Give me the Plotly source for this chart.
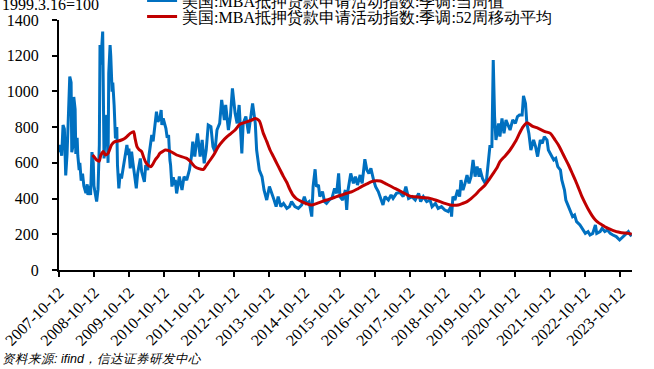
import pandas as pd
import plotly.graph_objects as go

# weekly observation index since 2007-10-12, and values (1999.3.16=100)
blue_week = [
    0, 2, 4, 6, 8, 10, 12, 14, 16, 18,
    19, 21, 22, 24, 25, 27, 28, 30, 31, 33,
    35, 37, 40, 42, 43, 45, 47, 49, 51, 52,
    54, 56, 58, 60, 61, 62, 65, 66, 67, 69,
    71, 73, 74, 76, 77, 79, 80, 82, 84, 86,
    87, 89, 91, 93, 95, 97, 99, 101, 103, 104,
    106, 108, 110, 112, 115, 117, 119, 121, 123, 125,
    127, 129, 132, 134, 136, 138, 140, 143, 145, 147,
    150, 152, 153, 155, 159, 161, 163, 165, 166, 168,
    170, 172, 173, 175, 179, 183, 186, 190, 194, 197,
    199, 202, 206, 210, 213, 216, 219, 222, 226, 229,
    232, 235, 239, 242, 246, 248, 252, 255, 258, 262,
    265, 268, 272, 274, 278, 282, 285, 288, 292, 294,
    298, 302, 305, 309, 313, 316, 320, 323, 326, 330,
    334, 339, 343, 346, 351, 356, 361, 365, 368, 372,
    376, 378, 381, 383, 386, 388, 392, 395, 398, 402,
    406, 410, 413, 416, 418, 422, 426, 428, 430, 434,
    438, 441, 444, 448, 451, 455, 458, 461, 464, 468,
    471, 475, 479, 482, 485, 490, 494, 497, 502, 507,
    512, 516, 520, 525, 530, 535, 538, 542, 547, 552,
    555, 560, 564, 569, 574, 579, 583, 584, 586, 589,
    593, 596, 598, 601, 604, 607, 610, 613, 616, 619,
    622, 625, 626, 630, 634, 636, 639, 641, 644, 646,
    648, 650, 654, 656, 659, 662, 665, 669, 671, 675,
    679, 682, 685, 689, 691, 694, 696, 699, 702, 706,
    709, 712, 716, 719, 722, 726, 728, 732, 736, 739,
    742, 746, 748, 752, 754, 758, 760, 764, 767, 770,
    775, 780, 783, 787, 790, 794, 798, 800, 805, 808,
    812, 816, 820, 824, 829, 834, 839, 843, 847, 850,
    852,
]
blue_value = [
    660, 700, 640, 812, 790, 530, 650, 900, 1083, 1050,
    660, 700, 969, 900, 650, 740, 640, 560, 600, 500,
    540, 470, 430, 480, 420, 470, 420, 660, 600, 470,
    430, 383, 450, 700, 1260, 1150, 1335, 900, 625, 800,
    868, 600, 1100, 1260, 1200, 999, 1050, 924, 737, 800,
    588, 457, 540, 513, 560, 588, 640, 700, 644, 680,
    569, 663, 600, 550, 457, 540, 588, 625, 550, 520,
    494, 588, 560, 644, 700, 756, 720, 812, 887, 830,
    849, 896, 812, 849, 793, 740, 756, 616, 588, 467,
    520, 476, 504, 429, 523, 448, 523, 504, 560, 635,
    719, 635, 765, 635, 728, 597, 672, 812, 803, 691,
    663, 784, 821, 952, 840, 924, 784, 859, 1017, 877,
    821, 924, 653, 821, 859, 765, 840, 933, 821, 672,
    560, 523, 448, 392, 467, 429, 392, 355, 411, 355,
    373, 345, 355, 383, 355, 345, 364, 411, 373, 383,
    299, 467, 564, 467, 476, 411, 439, 383, 373, 392,
    401, 457, 429, 541, 411, 392, 448, 336, 448, 541,
    485, 523, 476, 532, 485, 620, 560, 541, 569, 504,
    467, 439, 392, 364, 411, 392, 420, 401, 429, 435,
    411, 467, 401, 411, 392, 429, 383, 411, 383, 392,
    355, 373, 345, 355, 336, 327, 355, 299, 411, 392,
    448, 411, 504, 448, 485, 532, 485, 523, 616, 523,
    579, 523, 569, 513, 485, 504, 616, 691, 691, 1176,
    859, 728, 821, 747, 849, 765, 840, 803, 784, 840,
    821, 859, 868, 868, 975, 933, 821, 765, 672, 728,
    691, 635, 728, 709, 747, 728, 672, 644, 616, 625,
    579, 560, 504, 448, 392, 355, 336, 299, 308, 271,
    252, 224, 205, 215, 196, 205, 252, 205, 215, 233,
    215, 224, 205, 196, 187, 168, 187, 205, 215, 196,
    190,
]

red_week = [
    50, 53, 56, 60, 62, 66, 69, 73, 78, 83,
    88, 93, 97, 101, 106, 111, 113, 116, 119, 123,
    126, 130, 134, 137, 140, 143, 147, 150, 154, 158,
    165, 175, 190, 195, 202, 208, 215, 219, 225, 231,
    237, 243, 250, 256, 262, 269, 278, 287, 292, 298,
    304, 309, 314, 319, 324, 329, 334, 339, 343, 348,
    353, 361, 368, 376, 383, 391, 398, 406, 413, 421,
    428, 436, 443, 450, 458, 465, 472, 478, 484, 490,
    497, 505, 514, 522, 530, 537, 545, 552, 560, 567,
    574, 582, 588, 594, 600, 607, 613, 619, 626, 634,
    640, 646, 652, 656, 664, 671, 679, 685, 690, 696,
    704, 713, 723, 731, 738, 743, 748, 753, 758, 763,
    768, 773, 778, 783, 788, 793, 798, 803, 808, 812,
    817, 822, 827, 832, 837, 842, 847, 852,
]
red_value = [
    644, 630, 616, 610, 640, 663, 644, 653, 700, 719,
    722, 728, 735, 747, 765, 775, 740, 691, 675, 663,
    630, 597, 582, 579, 595, 616, 635, 653, 663, 672,
    666, 644, 625, 610, 579, 568, 564, 585, 616, 650,
    691, 720, 747, 765, 784, 816, 828, 840, 849, 835,
    765, 720, 672, 635, 597, 560, 523, 490, 455, 420,
    400, 383, 372, 364, 372, 383, 392, 401, 411, 420,
    430, 439, 452, 467, 482, 495, 500, 498, 488, 476,
    462, 448, 429, 414, 410, 407, 405, 401, 392, 383,
    373, 364, 362, 364, 372, 383, 400, 420, 448, 476,
    508, 541, 575, 607, 640, 672, 719, 765, 800, 825,
    806, 793, 775, 765, 728, 700, 663, 625, 588, 546,
    504, 458, 411, 372, 336, 305, 280, 264, 252, 242,
    233, 225, 218, 213, 209, 207, 205, 200,
]

tick_labels = [f"{y}-10-12" for y in range(2007, 2024)]
blue_name = "美国:MBA抵押贷款申请活动指数:季调:当周值"
red_name = "美国:MBA抵押贷款申请活动指数:季调:52周移动平均"
unit_text = "1999.3.16=100"
source_text = "资料来源: ifind，信达证券研发中心"

start = pd.Timestamp("2007-10-12")
blue_x = [start + pd.Timedelta(weeks=w) for w in blue_week]
red_x = [start + pd.Timedelta(weeks=w) for w in red_week]

SERIF = "Liberation Serif"
PLOT_W = 573
PLOT_H = 250

fig = go.Figure()
fig.add_trace(go.Scatter(x=blue_x, y=blue_value, mode="lines", name=blue_name,
                         line=dict(color="#0070C0", width=3), legend="legend"))
fig.add_trace(go.Scatter(x=red_x, y=red_value, mode="lines", name=red_name,
                         line=dict(color="#C00000", width=3, shape="spline", smoothing=0.6),
                         legend="legend2"))

legend_common = dict(x=0.145, xanchor="left", yanchor="middle",
                     font=dict(family=SERIF, size=16, color="black"),
                     bgcolor="rgba(0,0,0,0)")

fig.update_layout(
    width=654, height=369,
    margin=dict(l=59, r=22, t=20, b=99, autoexpand=False),
    paper_bgcolor="white", plot_bgcolor="white",
    showlegend=True,
    legend=dict(y=1 + 19.5 / PLOT_H, **legend_common),
    legend2=dict(y=1 + 3.3 / PLOT_H, **legend_common),
    xaxis=dict(type="date", range=["2007-10-12", "2024-02-12"], automargin=False,
               tickmode="array", tickvals=tick_labels, ticktext=tick_labels,
               tickangle=-45, ticks="outside", ticklen=5, tickwidth=1.5, tickcolor="black",
               showline=True, linecolor="black", linewidth=2, showgrid=False, zeroline=False,
               tickfont=dict(family=SERIF, size=16, color="black")),
    yaxis=dict(range=[0, 1400], dtick=200, tick0=0, ticks="outside", ticklen=5,
               automargin=False,
               tickwidth=1.5, tickcolor="black", showline=True, linecolor="black",
               linewidth=2, showgrid=False, zeroline=False, ticklabelstandoff=10,
               tickfont=dict(family=SERIF, size=16, color="black")),
    annotations=[
        dict(text=unit_text, xref="paper", yref="paper", x=-59 / PLOT_W, y=1.02,
             xanchor="left", yanchor="bottom", showarrow=False,
             font=dict(family=SERIF, size=16, color="black")),
        dict(text=source_text, xref="paper", yref="paper", x=-59 / PLOT_W, y=-0.356,
             xanchor="left", yanchor="middle", showarrow=False,
             font=dict(family="Liberation Sans", size=12.5,
                       color="black", style="italic")),
    ],
)

fig.write_html("out.html", config={"displayModeBar": False},
               post_script="document.body.style.margin='0px';")
